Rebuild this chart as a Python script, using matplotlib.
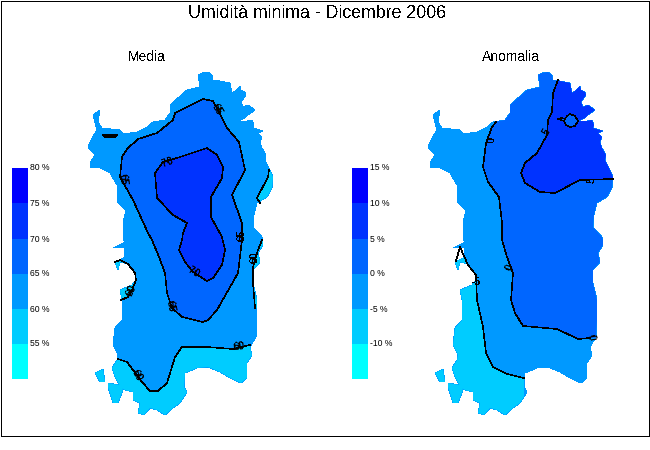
#!/usr/bin/env python3
import matplotlib

matplotlib.use("Agg")
import matplotlib.pyplot as plt
import numpy as np
from matplotlib.patches import PathPatch, Polygon, Rectangle
from matplotlib.path import Path

plt.rcParams["font.family"] = ["Liberation Sans", "DejaVu Sans"]
plt.rcParams["text.antialiased"] = False

# map outlines and isolines, in picture pixels of the left panel
COAST = [
    (198, 75), (202, 73), (208, 72), (212, 75), (213, 80), (220, 81), (230, 83), (231, 88), (232, 93),
    (235, 91), (240, 86), (241, 90), (245, 92), (246, 95), (241, 102), (243, 107), (248, 105), (255, 110),
    (248, 115), (245, 118), (238, 121), (247, 121), (252, 120), (254, 125), (253, 128), (263, 131),
    (258, 133), (262, 137), (260, 142), (262, 148), (266, 155), (265, 160), (269, 168), (273, 177),
    (272, 188), (267, 197), (257, 203), (254, 215), (253, 227), (262, 237), (263, 240), (263, 245),
    (258, 253), (260, 262), (253, 270), (253, 283), (257, 300), (257, 320), (256, 337), (250, 347),
    (252, 355), (247, 363), (247, 378), (241, 383), (230, 378), (220, 372), (208, 367), (197, 368),
    (185, 373), (184, 387), (187, 392), (180, 403), (173, 408), (165, 415), (157, 410), (150, 408),
    (144, 415), (138, 413), (140, 403), (133, 400), (133, 392), (125, 390), (121, 388), (115, 377),
    (112, 368), (117, 360), (118, 355), (113, 345), (115, 328), (122, 320), (122, 300), (120, 290),
    (132, 285), (136, 280), (135, 273), (128, 264), (120, 262), (118, 270), (115, 262), (125, 257),
    (124, 248), (113, 248), (125, 242), (123, 240), (123, 223), (126, 210), (117, 202), (117, 185),
    (110, 173), (98, 167), (90, 168), (90, 163), (95, 155), (88, 147), (92, 138), (97, 130), (93, 115),
    (100, 110), (98, 122), (102, 128), (120, 130), (123, 134), (137, 132), (147, 127), (153, 122),
    (165, 120), (170, 113), (170, 105), (187, 90), (200, 87),
]
ISLAND_W = [(95, 373), (103, 369), (105, 382), (100, 382)]
ISLAND_S = [(108, 383), (120, 385), (123, 390), (118, 403), (113, 403), (108, 387)]

MEDIA_65 = [
    (203, 99), (213, 101), (218, 110), (227, 128), (239, 142), (245, 170), (232, 195), (242, 223),
    (242, 240), (238, 273), (217, 310), (208, 320), (203, 322), (182, 317), (172, 308), (167, 293),
    (165, 273), (159, 257), (152, 240), (148, 233), (133, 200), (120, 177), (122, 157), (127, 149),
    (138, 139), (157, 133), (173, 120), (175, 113), (187, 107), (203, 99),
]
MEDIA_70 = [
    (207, 148), (217, 155), (223, 167), (222, 178), (211, 197), (211, 217), (222, 237), (225, 250),
    (222, 265), (213, 278), (207, 281), (193, 272), (185, 262), (179, 250), (182, 240), (183, 233),
    (187, 223), (173, 215), (157, 198), (155, 173), (163, 162), (180, 157), (207, 148),
]
MEDIA_60_SOUTH = [
    (118, 359), (127, 362), (133, 370), (142, 382), (150, 391), (158, 391), (167, 383), (175, 357),
    (182, 347), (207, 347), (233, 349), (250, 345),
]
MEDIA_60_GULF = [(115, 262), (120, 260), (128, 264), (135, 273), (136, 280), (132, 290), (128, 297), (121, 300)]
MEDIA_60_EAST1 = [(269, 170), (268, 177), (257, 198), (260, 203)]
MEDIA_60_EAST2 = [(262, 240), (258, 250), (253, 267), (253, 283), (255, 308)]
MEDIA_LAKE = [(103, 135), (117, 135), (115, 137), (105, 137), (103, 135)]

ANOM_0 = [
    (156, 122), (152, 127), (146, 143), (143, 167), (148, 182), (159, 197), (162, 223), (162, 240),
    (167, 257), (173, 273), (171, 300), (175, 313), (183, 326), (217, 329), (238, 339), (250, 338),
]
ANOM_5 = [
    (218, 80), (213, 93), (212, 112), (208, 120), (207, 135), (197, 153), (185, 163), (181, 173),
    (185, 183), (200, 192), (215, 193), (240, 180), (273, 179),
]
ANOM_5_HOLE = [
    (230, 114), (235, 116), (238, 121), (235, 126), (230, 127), (226, 125), (224, 121), (218, 119),
    (222, 118), (225, 119), (227, 116), (230, 114),
]
ANOM_M5 = [
    (116, 261), (120, 247), (128, 265), (136, 275), (137, 300), (143, 327), (146, 353), (153, 367),
    (167, 374), (184, 378),
]

COLORS = ["#00ffff", "#00ccff", "#0099ff", "#0066ff", "#0033ff", "#0000ff"]
MEDIA_TICKS = ["55 %", "60 %", "65 %", "70 %", "75 %", "80 %"]
ANOM_TICKS = ["-10 %", "-5 %", "0 %", "5 %", "10 %", "15 %"]

# label text, x, y, rotation
MEDIA_LABELS = [
    ("65", 217, 109, -60), ("65", 123, 179, -85), ("70", 168, 162, 20), ("65", 242, 235, 90),
    ("60", 255, 257, 90), ("70", 194, 272, -30), ("65", 171, 306, -80), ("60", 131, 291, 65),
    ("60", 239, 347, 5), ("60", 137, 375, -60),
]
ANOM_LABELS = [
    ("0", 148, 140, -90), ("5", 207, 132, 60), ("5", 252, 180, 90), ("0", 170, 267, 70),
    ("-5", 136, 282, 0), ("0", 251, 337, -80),
]

PANEL_SHIFT = 340
BAR_TOPS = [344, 309, 274, 239, 203, 168]
BAR_BOTTOMS = [379, 344, 309, 274, 239, 203]


def shifted(points, dx):
    arr = np.asarray(points, dtype=float)
    return arr + [dx, 0]


def draw_land(ax, dx, fills):
    parts = []
    for shape in (COAST, ISLAND_W, ISLAND_S):
        verts = shifted(shape, dx)
        parts.append(Path(np.vstack([verts, verts[:1]]), closed=True))
    land = PathPatch(Path.make_compound_path(*parts), facecolor=COLORS[2], edgecolor="none", antialiased=False)
    ax.add_patch(land)
    for verts, color in fills:
        patch = Polygon(shifted(verts, dx), closed=True, facecolor=color, edgecolor="none", antialiased=False)
        ax.add_patch(patch)
        patch.set_clip_path(land)


def draw_lines(ax, dx, lines):
    for line in lines:
        xy = shifted(line, dx)
        ax.plot(xy[:, 0], xy[:, 1], color="black", lw=0.4, antialiased=False)


def draw_labels(ax, dx, labels):
    for text, x, y, rot in labels:
        ax.text(x + dx, y, text, fontsize=7.5, fontweight="bold", rotation=rot, color="black",
                ha="center", va="center", rotation_mode="anchor")


def draw_bar(ax, dx, ticks):
    for top, bottom, color, tick in zip(BAR_TOPS, BAR_BOTTOMS, COLORS, ticks):
        ax.add_patch(Rectangle((12 + dx, top), 16, bottom - top, facecolor=color, edgecolor="none", antialiased=False))
        ax.text(30 + dx, top, tick, fontsize=6.2, ha="left", va="center", color="black", antialiased=True)


fig = plt.figure(figsize=(6.5, 4.5), dpi=100)
ax = fig.add_axes([0, 0, 1, 1])
ax.set_xlim(0, 650)
ax.set_ylim(450, 0)
ax.axis("off")

ax.add_patch(Rectangle((0.5, 0.5), 648.5, 435.5, facecolor="none", edgecolor="black", lw=0.7, antialiased=False))
ax.text(317, 13, "Umidità minima - Dicembre 2006", fontsize=12.8, ha="center", va="center")
ax.text(147, 57, "Media", fontsize=10, ha="center", va="center")
ax.text(511.5, 57, "Anomalia", fontsize=10, ha="center", va="center")

media_fills = [
    (MEDIA_60_SOUTH + [(280, 345), (280, 430), (85, 430), (85, 359)], COLORS[1]),
    (MEDIA_60_GULF + [(100, 300), (100, 262)], COLORS[1]),
    (MEDIA_60_EAST1 + [(290, 203), (290, 170)], COLORS[1]),
    (MEDIA_60_EAST2 + [(290, 308), (290, 240)], COLORS[1]),
    (MEDIA_65, COLORS[3]),
    (MEDIA_70, COLORS[4]),
]
draw_land(ax, 0, media_fills)
draw_lines(ax, 0, [MEDIA_65, MEDIA_70, MEDIA_60_SOUTH, MEDIA_60_GULF, MEDIA_60_EAST1, MEDIA_60_EAST2, MEDIA_LAKE])
draw_labels(ax, 0, MEDIA_LABELS)
draw_bar(ax, 0, MEDIA_TICKS)

anom_fills = [
    (ANOM_M5 + [(184, 430), (85, 430), (85, 261)], COLORS[1]),
    (ANOM_0 + [(300, 338), (300, 60), (156, 60)], COLORS[3]),
    (ANOM_5 + [(300, 179), (300, 60), (218, 60)], COLORS[4]),
    (ANOM_5_HOLE, COLORS[3]),
]
draw_land(ax, PANEL_SHIFT, anom_fills)
draw_lines(ax, PANEL_SHIFT, [ANOM_0, ANOM_5, ANOM_5_HOLE, ANOM_M5])
draw_labels(ax, PANEL_SHIFT, ANOM_LABELS)
draw_bar(ax, PANEL_SHIFT, ANOM_TICKS)

fig.savefig("out.png", dpi=100)
